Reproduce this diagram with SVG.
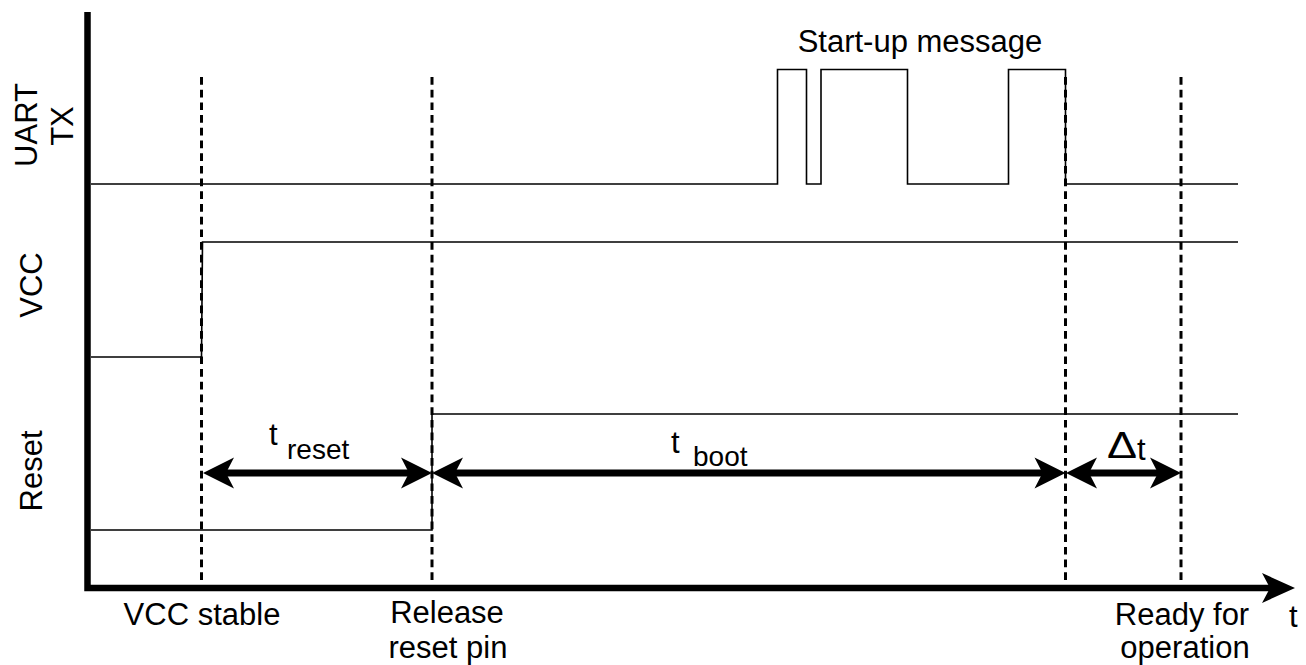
<svg xmlns="http://www.w3.org/2000/svg" width="1306" height="665" viewBox="0 0 1306 665">
<style>
text{font-family:"Liberation Sans",Arial,sans-serif;fill:#000}
.lbl{font-size:31px}
.sub{font-size:28px}
.sig{fill:none;stroke:#000;stroke-width:1.6}
.dash{fill:none;stroke:#000;stroke-width:3;stroke-dasharray:7.7 5}
.axis{fill:none;stroke:#000;stroke-width:6.5}
.dim{fill:none;stroke:#000;stroke-width:7}
</style>
<defs>
<marker id="ah" viewBox="-32 -16 34 32" refX="-20" refY="0" markerWidth="34" markerHeight="32" markerUnits="userSpaceOnUse" orient="auto-start-reverse">
<path d="M0,0 L-31,-15.5 L-23,0 L-31,15.5 Z" fill="#000"/>
</marker>
<marker id="axh" viewBox="-34 -16 36 32" refX="-20" refY="0" markerWidth="36" markerHeight="32" markerUnits="userSpaceOnUse" orient="auto">
<path d="M0,0 L-33,-15 L-25,0 L-33,15 Z" fill="#000"/>
</marker>
</defs>
<rect width="1306" height="665" fill="#fff"/>

<g id="axes">
<path class="axis" d="M87.5,12 V588 H1275" marker-end="url(#axh)"/>
</g>

<g id="signals">
<g id="uart-tx">
<path class="sig" d="M91,184 H777.5 V69.5 H806.5 V184 H821 V69.5 H907.5 V184 H1008.5 V69.5 H1065.5 V184 H1238"/>
</g>
<g id="vcc">
<path class="sig" d="M91,357 H201.5 L202.5,242 H1238"/>
</g>
<g id="reset">
<path class="sig" d="M91,530 H432 V414 H1238"/>
</g>
</g>

<g id="markers">
<line class="dash" x1="201.5" y1="77" x2="201.5" y2="585"/>
<line class="dash" x1="432" y1="77" x2="432" y2="585"/>
<line class="dash" x1="1065.5" y1="77" x2="1065.5" y2="585"/>
<line class="dash" x1="1181" y1="77" x2="1181" y2="585"/>
</g>

<g id="connectors">
<line class="dim" x1="223" y1="473" x2="412" y2="473" marker-start="url(#ah)" marker-end="url(#ah)"/>
<line class="dim" x1="452" y1="473" x2="1045.5" y2="473" marker-start="url(#ah)" marker-end="url(#ah)"/>
<line class="dim" x1="1086" y1="473" x2="1161" y2="473" marker-start="url(#ah)" marker-end="url(#ah)"/>
</g>

<g id="labels">
<text class="lbl" transform="translate(37,125) rotate(-90)" text-anchor="middle">UART</text>
<text class="lbl" transform="translate(73,126) rotate(-90)" text-anchor="middle">TX</text>
<text class="lbl" transform="translate(42,285) rotate(-90)" text-anchor="middle">VCC</text>
<text class="lbl" transform="translate(42,471) rotate(-90)" text-anchor="middle">Reset</text>
<text class="lbl" x="920" y="52" text-anchor="middle">Start-up message</text>
<text class="lbl" x="269" y="445">t</text>
<text class="sub" x="287" y="459">reset</text>
<text class="lbl" x="671" y="453">t</text>
<text class="sub" x="693" y="466">boot</text>
<text class="lbl" x="1107" y="458" textLength="30" lengthAdjust="spacingAndGlyphs" style="font-size:36px">Δ</text>
<text class="lbl" x="1137" y="460">t</text>
<text class="lbl" x="202" y="625" text-anchor="middle">VCC stable</text>
<text class="lbl" x="447" y="623" text-anchor="middle">Release</text>
<text class="lbl" x="448" y="658" text-anchor="middle">reset pin</text>
<text class="lbl" x="1182" y="625" text-anchor="middle">Ready for</text>
<text class="lbl" x="1185" y="658" text-anchor="middle">operation</text>
<text class="lbl" x="1289" y="627">t</text>
</g>
</svg>
